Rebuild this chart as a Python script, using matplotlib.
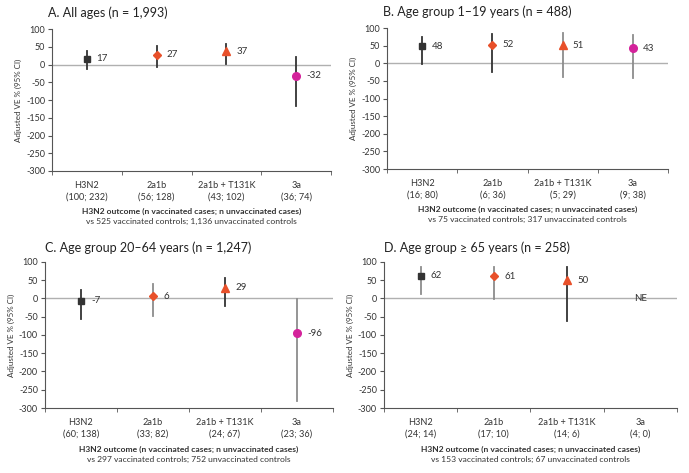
import matplotlib
matplotlib.use("Agg")
import matplotlib.pyplot as plt
import numpy as np

plt.rcParams['font.family'] = ['Lato', 'DejaVu Sans']

# Data
outcomes = ["H3N2", "2a1b", "2a1b + T131K", "3a"]

titles = [
    "A. All ages (n = 1,993)",
    "B. Age group 1–19 years (n = 488)",
    "C. Age group 20–64 years (n = 1,247)",
    "D. Age group ≥ 65 years (n = 258)",
]

counts_a = ["(100; 232)", "(56; 128)", "(43; 102)", "(36; 74)"]
counts_b = ["(16; 80)", "(6; 36)", "(5; 29)", "(9; 38)"]
counts_c = ["(60; 138)", "(33; 82)", "(24; 67)", "(23; 36)"]
counts_d = ["(24; 14)", "(17; 10)", "(14; 6)", "(4; 0)"]

controls = [
    "vs 525 vaccinated controls; 1,136 unvaccinated controls",
    "vs 75 vaccinated controls; 317 unvaccinated controls",
    "vs 297 vaccinated controls; 752 unvaccinated controls",
    "vs 153 vaccinated controls; 67 unvaccinated controls",
]

# VE point estimates, lower and upper 95% CI (None = not estimable)
ve_a = [17, 27, 37, -32]
lo_a = [-13, -7, 3, -118]
hi_a = [38, 51, 57, 21]

ve_b = [48, 52, 51, 43]
lo_b = [-3, -24, -38, -43]
hi_b = [74, 83, 85, 79]

ve_c = [-7, 6, 29, -96]
lo_c = [-57, -48, -21, -280]
hi_c = [22, 39, 55, -2]

ve_d = [62, 61, 50, None]
lo_d = [11, -3, -61, None]
hi_d = [85, 85, 85, None]

# styling
markers = ["s", "D", "^", "o"]
mcolors = ["#333333", "#e8502a", "#e8502a", "#d4239b"]
msizes = [4.5, 4, 5.5, 5.5]
dark, grey = "#333333", "#8c8c8c"
bar_cols = [
    [dark, dark, dark, dark],
    [dark, dark, grey, grey],
    [dark, grey, dark, grey],
    [grey, grey, dark, dark],
]

panels = [
    (ve_a, lo_a, hi_a, counts_a),
    (ve_b, lo_b, hi_b, counts_b),
    (ve_c, lo_c, hi_c, counts_c),
    (ve_d, lo_d, hi_d, counts_d),
]

# [left, bottom, width, height] in figure fractions
rects = [
    [0.0755, 0.6385, 0.405, 0.300],
    [0.5617, 0.6427, 0.408, 0.298],
    [0.0653, 0.1374, 0.418, 0.309],
    [0.5573, 0.1374, 0.425, 0.309],
]
title_x = [48, 383, 45, 384]
title_y = [13, 12, 248, 248]

fig = plt.figure(figsize=(6.89, 4.73), dpi=100)

for i, (ve, lo, hi, cnt) in enumerate(panels):
    ax = fig.add_axes(rects[i])
    x = np.arange(len(outcomes)) + 0.5
    ax.axhline(0, color="#b0b0b0", lw=1, zorder=1)
    for j in range(len(outcomes)):
        if ve[j] is None:
            ax.text(x[j], 0, "NE", ha="center", va="center", fontsize=7, color="#333333",
                    zorder=3)
            continue
        ax.plot([x[j], x[j]], [lo[j], hi[j]], color=bar_cols[i][j], lw=1.3, zorder=2)
        ax.plot(x[j], ve[j], marker=markers[j], color=mcolors[j], ms=msizes[j],
                linestyle="none", zorder=3)
        ax.text(x[j] + 0.14, ve[j], str(ve[j]), ha="left", va="center", fontsize=7,
                color="#333333")
    ax.set_xlim(0, 4)
    ax.set_ylim(-300, 100)
    ax.set_yticks(np.arange(-300, 101, 50))
    ax.set_yticklabels([str(v) for v in range(-300, 101, 50)], fontsize=6.5, color="#333333")
    ax.set_xticks(x)
    ax.set_xticklabels([f"{o}\n{c}" for o, c in zip(outcomes, cnt)], fontsize=6.6,
                       color="#333333", linespacing=1.35)
    ax.set_xticks(np.arange(0, 5), minor=True)
    ax.tick_params(axis="x", which="major", length=0, pad=7)
    ax.tick_params(axis="x", which="minor", length=3, color="#555555")
    ax.tick_params(axis="y", length=3, color="#555555", pad=2)
    for s in ["top", "right"]:
        ax.spines[s].set_visible(False)
    for s in ["left", "bottom"]:
        ax.spines[s].set_color("#555555")
        ax.spines[s].set_linewidth(0.8)
    ax.set_ylabel("Adjusted VE % (95% CI)", fontsize=5.8, color="#333333", labelpad=3)
    ax.text(0.5, -0.285, "H3N2 outcome (n vaccinated cases; n unvaccinated cases)",
            transform=ax.transAxes, ha="center", va="center", fontsize=6.1,
            fontweight="bold", color="#333333")
    ax.text(0.5, -0.355, controls[i], transform=ax.transAxes, ha="center", va="center",
            fontsize=6.1, color="#333333")
    fig.text(title_x[i] / 689, 1 - title_y[i] / 473, titles[i], ha="left", va="center",
             fontsize=9, color="#222222")

fig.savefig("out.png", dpi=100)
